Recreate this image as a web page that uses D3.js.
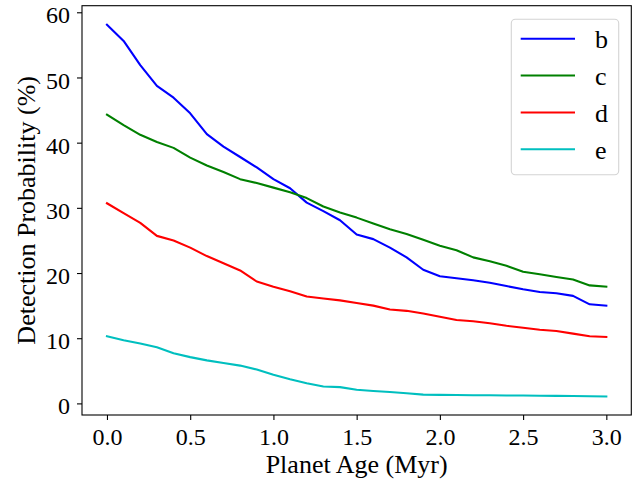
<!DOCTYPE html>
<html><head><meta charset="utf-8">
<script src="https://cdn.jsdelivr.net/npm/d3@7"></script>
<style>
html,body{margin:0;padding:0;background:#fff;}
svg{display:block;font-family:"Liberation Serif","Times New Roman",serif;}
</style></head>
<body><svg id="c" width="641" height="483"></svg>
<script>
const ages = [0.0,0.1,0.2,0.3,0.4,0.5,0.6,0.7,0.8,0.9,1.0,1.1,1.2,1.3,1.4,1.5,1.6,1.7,1.8,1.9,2.0,2.1,2.2,2.3,2.4,2.5,2.6,2.7,2.8,2.9,3.0];
const planetB = [58.1,55.6,51.9,48.7,46.9,44.5,41.3,39.4,37.8,36.2,34.4,33.0,30.8,29.5,28.1,25.9,25.2,23.9,22.4,20.5,19.5,19.2,18.9,18.5,18.0,17.5,17.1,16.9,16.5,15.2,15.0];
const planetC = [44.3,42.7,41.2,40.1,39.2,37.7,36.5,35.5,34.4,33.8,33.1,32.4,31.5,30.2,29.3,28.5,27.6,26.7,26.0,25.1,24.2,23.5,22.4,21.8,21.1,20.2,19.8,19.4,19.0,18.1,17.9];
const planetD = [30.7,29.2,27.7,25.7,25.0,23.9,22.6,21.5,20.4,18.7,17.9,17.2,16.4,16.1,15.8,15.4,15.0,14.4,14.2,13.8,13.3,12.8,12.6,12.3,11.9,11.6,11.3,11.1,10.7,10.3,10.2];
const planetE = [10.3,9.7,9.2,8.6,7.7,7.1,6.6,6.2,5.8,5.2,4.4,3.7,3.1,2.6,2.5,2.1,1.9,1.75,1.55,1.35,1.3,1.28,1.26,1.24,1.22,1.2,1.18,1.16,1.13,1.1,1.05];
const seriesNames = ["b","c","d","e"];
const seriesColors = ["#0000ff","#008000","#ff0000","#00bfbf"];
const xTicks = [0.0,0.5,1.0,1.5,2.0,2.5,3.0];
const yTicks = [0,10,20,30,40,50,60];
const xLabel = "Planet Age (Myr)";
const yLabel = "Detection Probability (%)";

const allSeries = [planetB, planetC, planetD, planetE];
const L = 82, R = 631.3, T = 5.7, B = 415;
const svg = d3.select("#c");
const x = d3.scaleLinear().domain([-0.15, 3.15]).range([L, R]);
const y = d3.scaleLinear().domain([-1.78, 61.01]).range([B, T]);

const line = d3.line().x((d,i)=>x(ages[i])).y(d=>y(d));
allSeries.forEach((s,k)=>{
  svg.append("path").datum(s).attr("d", line)
    .attr("fill","none").attr("stroke", seriesColors[k])
    .attr("stroke-width", 2.1).attr("stroke-linejoin","round").attr("stroke-linecap","square");
});

// axes
const xa = svg.append("g").attr("transform",`translate(0,${B})`)
  .call(d3.axisBottom(x).tickValues(xTicks).tickFormat(d3.format(".1f")).tickSize(5).tickPadding(8).tickSizeOuter(0));
const ya = svg.append("g").attr("transform",`translate(${L},0)`)
  .call(d3.axisLeft(y).tickValues(yTicks).tickFormat(d3.format("d")).tickSize(5).tickPadding(7).tickSizeOuter(0));
[xa, ya].forEach(g=>{
  g.select(".domain").remove();
  g.selectAll(".tick line").attr("stroke","#000").attr("stroke-width",1.1);
  g.selectAll(".tick text").attr("fill","#000").style("font-size","24px")
    .style("font-family",'"Liberation Serif","Times New Roman",serif');
});
ya.selectAll(".tick text").attr("dy","0.44em");

// frame
svg.append("rect").attr("x",L).attr("y",T).attr("width",R-L).attr("height",B-T)
  .attr("fill","none").attr("stroke","#000").attr("stroke-width",1.1);

// labels
svg.append("text").attr("x",(L+R)/2).attr("y",472.5).attr("text-anchor","middle")
  .style("font-size","26px").text(xLabel);
svg.append("text").attr("transform",`translate(35,${(T+B)/2}) rotate(-90)`).attr("text-anchor","middle")
  .style("font-size","26px").text(yLabel);

// legend
const lg = svg.append("g");
lg.append("rect").attr("x",511.3).attr("y",19.3).attr("width",107.4).attr("height",155.4)
  .attr("rx",4).attr("fill","#fff").attr("fill-opacity",0.8).attr("stroke","#d4d4d4").attr("stroke-width",1.1);
const rowY = d3.scalePoint().domain(seriesNames).range([38.7,149.3]);
seriesNames.forEach((n,k)=>{
  lg.append("line").attr("x1",520.7).attr("x2",575).attr("y1",rowY(n)).attr("y2",rowY(n))
    .attr("stroke",seriesColors[k]).attr("stroke-width",2.1);
  lg.append("text").attr("x",595).attr("y",rowY(n)+9.6).style("font-size","26px").text(n);
});
</script></body></html>
